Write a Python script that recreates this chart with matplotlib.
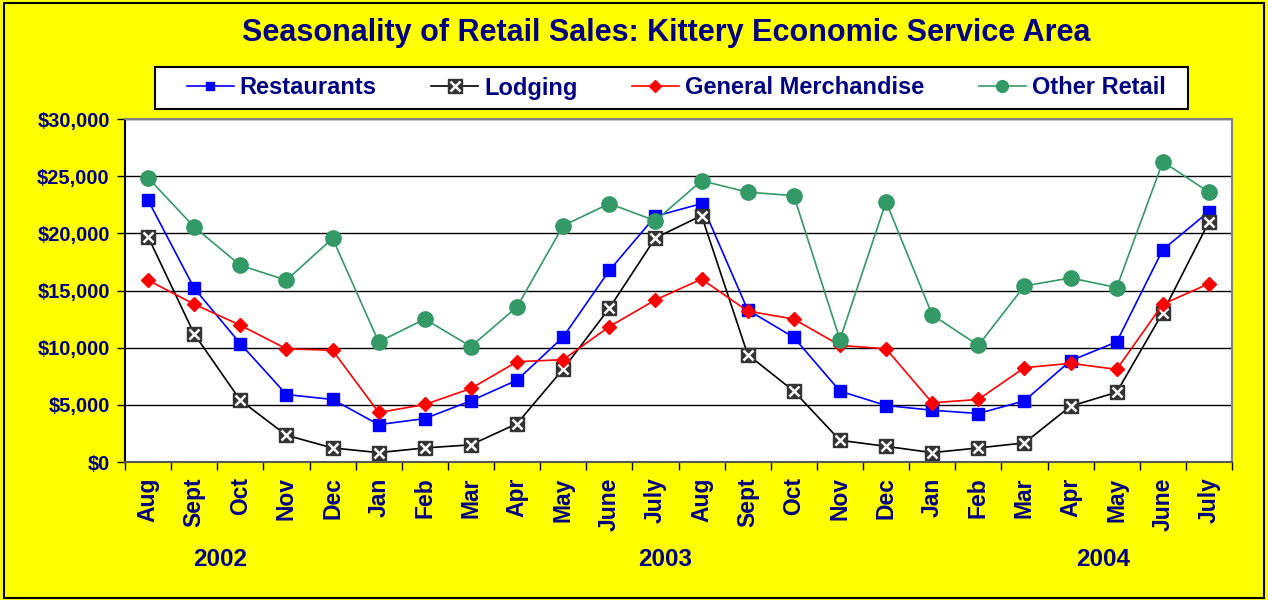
import matplotlib
matplotlib.use('Agg')
import matplotlib.pyplot as plt
from matplotlib.patches import Rectangle
from matplotlib.lines import Line2D
from matplotlib.ticker import FuncFormatter

# meses ago/2002 - jul/2004
meses = ['Aug', 'Sept', 'Oct', 'Nov', 'Dec', 'Jan', 'Feb', 'Mar', 'Apr', 'May', 'June', 'July',
         'Aug', 'Sept', 'Oct', 'Nov', 'Dec', 'Jan', 'Feb', 'Mar', 'Apr', 'May', 'June', 'July']
anos = ['2002', '2003', '2004']
anos_pos = [1.56, 11.2, 20.7]

restaurants = [22900, 15200, 10350, 5900, 5470, 3270, 3800, 5350, 7160, 10940, 16750, 21500,
               22600, 13300, 10900, 6200, 4940, 4530, 4240, 5350, 8860, 10500, 18570, 21900]
lodging = [19700, 11200, 5400, 2340, 1230, 820, 1230, 1500, 3360, 8130, 13450, 19600,
           21550, 9400, 6200, 1900, 1370, 820, 1230, 1670, 4880, 6100, 13070, 21000]
general = [15900, 13800, 11960, 9900, 9770, 4330, 5030, 6430, 8770, 8950, 11840, 14180,
           16000, 13200, 12500, 10200, 9900, 5180, 5470, 8250, 8630, 8100, 13800, 15600]
other = [24850, 20560, 17200, 15900, 19560, 10500, 12500, 10100, 13570, 20670, 22600, 21100,
         24600, 23600, 23300, 10700, 22750, 12870, 10200, 15400, 16100, 15260, 26260, 23600]

navy = '#000080'
amarelo = '#FFFF00'
azul, preto, vermelho, verde = '#0000FF', 'black', '#FF0000', '#339966'
plt.rcParams['font.family'] = 'Liberation Sans'
plt.rcParams['font.weight'] = 'bold'

W, H = 1268, 600
fig = plt.figure(figsize=(W / 100, H / 100), dpi=100)
fig.patch.set_facecolor(amarelo)
# moldura externa
fig.patches.append(Rectangle((4 / W, 2 / H), 1260 / W, 595 / H, transform=fig.transFigure,
                             fill=False, edgecolor='black', linewidth=1.5))
# caixa da legenda
fig.patches.append(Rectangle((155 / W, 1 - 109 / H), 1033 / W, 42 / H, transform=fig.transFigure,
                             facecolor='white', edgecolor='black', linewidth=1.5))

ax = fig.add_axes([125 / W, 1 - 462 / H, 1107 / W, 343 / H])
ax.set_facecolor('white')
x = list(range(len(meses)))

ax.plot(x, restaurants, color=azul, lw=1.2, marker='s', ms=8.6, mec=azul, mfc=azul)
ax.plot(x, lodging, color=preto, lw=1.2, marker='s', ms=10, mec='#333333', mfc='#333333')
ax.plot(x, lodging, ls='none', marker='x', ms=7, mew=1.8, color='white')
ax.plot(x, general, color=vermelho, lw=1.2, marker='D', ms=7.5, mec=vermelho, mfc=vermelho)
ax.plot(x, other, color=verde, lw=1.2, marker='o', ms=11, mec=verde, mfc=verde)

ax.set_xlim(-0.5, len(meses) - 0.5)
ax.set_ylim(0, 30000)
ax.set_yticks(range(0, 30001, 5000))
ax.yaxis.set_major_formatter(FuncFormatter(lambda v, p: '${:,.0f}'.format(v)))
ax.yaxis.grid(True, color='black', lw=1)
ax.set_axisbelow(True)

ax.set_xticks(x)
ax.set_xticklabels(meses, rotation=90, va='top', ha='center')
ax.set_xticks([i - 0.5 for i in range(len(meses) + 1)], minor=True)
ax.tick_params(axis='x', which='major', length=0, pad=11, labelsize=16.5, labelcolor=navy)
ax.tick_params(axis='x', which='minor', length=6, width=1, direction='out')
ax.tick_params(axis='y', length=6, width=1, pad=5, labelsize=14.5, labelcolor=navy)

ax.spines['left'].set_linewidth(1.5)
ax.spines['bottom'].set_color('#555555')
ax.spines['bottom'].set_linewidth(1.5)
ax.spines['top'].set_color('#808080')
ax.spines['right'].set_color('#808080')
ax.spines['top'].set_linewidth(1.5)
ax.spines['right'].set_linewidth(1.5)

for ano, pos in zip(anos, anos_pos):
    ax.text(pos, -8500, ano, ha='center', va='center', fontsize=17.4, color=navy, fontweight='bold')

fig.text(666 / W, 1 - 33 / H, 'Seasonality of Retail Sales: Kittery Economic Service Area',
         ha='center', va='center', fontsize=22, color=navy, fontweight='bold')

# marcadores da legenda (menores que no grafico)
h1 = Line2D([], [], color=azul, lw=1.2, marker='s', ms=6, mec=azul, mfc=azul)
h2 = Line2D([], [], color=preto, lw=1.2, marker='s', ms=10, mec='#333333', mfc='#333333')
h2x = Line2D([], [], ls='none', marker='x', ms=7, mew=1.8, color='white')
h3 = Line2D([], [], color=vermelho, lw=1.2, marker='D', ms=6.5, mec=vermelho, mfc=vermelho)
h4 = Line2D([], [], color=verde, lw=1.2, marker='o', ms=8.5, mec=verde, mfc=verde)

leg = fig.legend([h1, (h2, h2x), h3, h4], ['Restaurants', 'Lodging', 'General Merchandise', 'Other Retail'],
                 loc='center', bbox_to_anchor=(676 / W, 1 - 88 / H), ncol=4, frameon=False,
                 fontsize=17, handlelength=2, columnspacing=2.3, handletextpad=0.25)
for t in leg.get_texts():
    t.set_color(navy)

fig.savefig('out.png', dpi=100, facecolor=amarelo)
